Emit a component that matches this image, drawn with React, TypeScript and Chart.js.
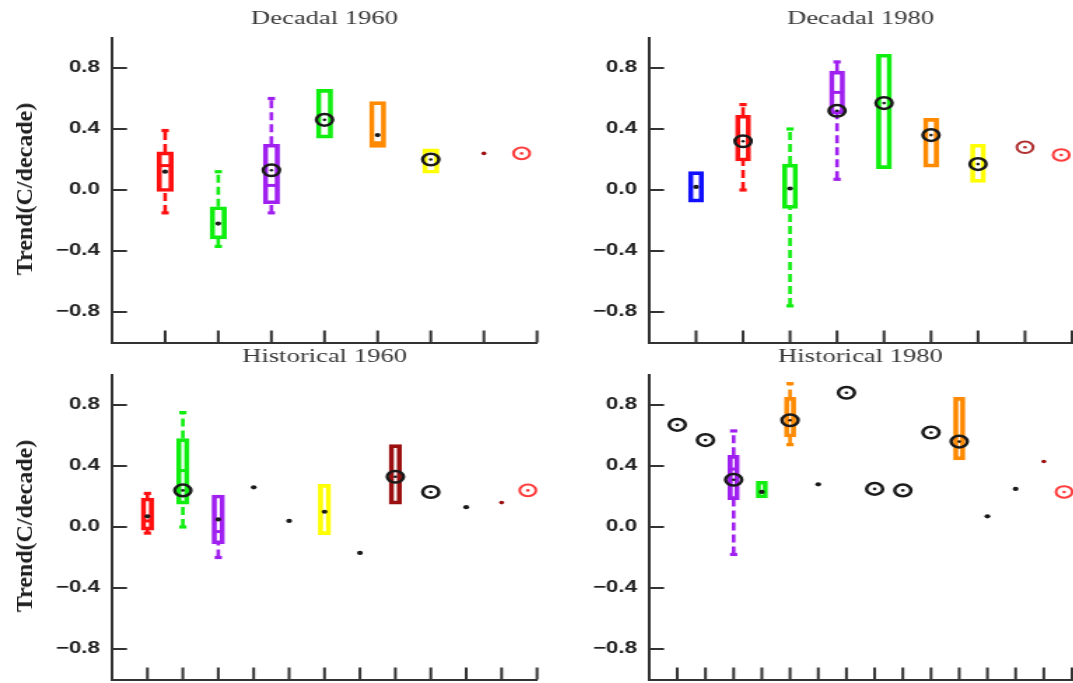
import React, { useEffect, useRef } from 'react';
import { Chart, registerables } from 'chart.js';

Chart.register(...registerables);

// ---------- colours ----------
const RED = '#ff1010';
const GREEN = '#10ee10';
const PURPLE = '#a020f0';
const ORANGE = '#ff8a00';
const YELLOW = '#ffff00';
const BLUE = '#1010ff';
const DKRED = '#9a1010';
const RING_DKRED = '#b03030';
const LTRED = '#ff3b3b';
const BLACK = '#1a1a1a';
const AXIS = '#333333';

// ---------- shared axis ----------
const Y_MIN = -1;
const Y_MAX = 1;
const Y_STEP = 0.1;
const Y_TITLE = 'Trend(C/decade)';

// ---------- Decadal 1960 ----------
const d60Title = 'Decadal 1960';
const d60Max = 8;
const d60Pos = [1, 2, 3, 4, 5, 6, 7, 7.71];
const d60Color = [RED, GREEN, PURPLE, GREEN, ORANGE, YELLOW, DKRED, LTRED];
const d60BoxLow = [-0.01, -0.32, -0.09, 0.34, 0.28, 0.11, null, null];
const d60BoxHigh = [0.25, -0.11, 0.30, 0.66, 0.58, 0.27, null, null];
const d60Median = [0.16, null, 0.03, null, 0.31, null, null, null];
const d60WhiskLow = [-0.15, -0.37, -0.15, null, null, null, null, null];
const d60WhiskHigh = [0.39, 0.12, 0.60, null, null, null, null, null];
const d60Dot = [0.12, -0.22, null, null, 0.36, null, 0.24, null];
const d60Circle = [null, null, 0.13, 0.46, null, 0.20, null, 0.24];

// ---------- Decadal 1980 ----------
const d80Title = 'Decadal 1980';
const d80Max = 9;
const d80Pos = [1, 2, 3, 4, 5, 6, 7, 8, 8.77];
const d80Color = [BLUE, RED, GREEN, PURPLE, GREEN, ORANGE, YELLOW, RING_DKRED, LTRED];
const d80BoxLow = [-0.08, 0.19, -0.12, 0.50, 0.14, 0.15, 0.05, null, null];
const d80BoxHigh = [0.12, 0.49, 0.17, 0.78, 0.89, 0.47, 0.30, null, null];
const d80Median = [null, null, null, 0.64, null, null, null, null, null];
const d80WhiskLow = [null, 0.0, -0.76, 0.07, null, null, null, null, null];
const d80WhiskHigh = [null, 0.56, 0.40, 0.84, null, null, null, null, null];
const d80Dot = [0.02, null, 0.01, null, null, null, null, null, null];
const d80Circle = [null, 0.32, null, 0.52, 0.57, 0.36, 0.17, 0.28, 0.23];

// ---------- Historical 1960 ----------
const h60Title = 'Historical 1960';
const h60Max = 12;
const h60Pos = [1, 2, 3, 4, 5, 6, 7, 8, 9, 10, 11, 11.74];
const h60Color = [RED, GREEN, PURPLE, BLACK, BLACK, YELLOW, BLACK, DKRED, BLACK, BLACK, DKRED, LTRED];
const h60BoxLow = [-0.02, 0.15, -0.11, null, null, -0.05, null, 0.15, null, null, null, null];
const h60BoxHigh = [0.19, 0.58, 0.21, null, null, 0.28, null, 0.54, null, null, null, null];
const h60Median = [0.04, 0.37, -0.03, null, null, null, null, null, null, null, null, null];
const h60WhiskLow = [-0.04, 0.0, -0.20, null, null, null, null, null, null, null, null, null];
const h60WhiskHigh = [0.22, 0.75, null, null, null, null, null, null, null, null, null, null];
const h60Dot = [0.07, null, 0.05, 0.26, 0.04, 0.10, -0.17, null, null, 0.13, 0.16, null];
const h60Circle = [null, 0.24, null, null, null, null, null, 0.33, 0.23, null, null, 0.24];

// ---------- Historical 1980 ----------
const h80Title = 'Historical 1980';
const h80Max = 15;
const h80Pos = [1, 2, 3, 4, 5, 6, 7, 8, 9, 10, 11, 12, 13, 14, 14.72];
const h80Color = [BLACK, BLACK, PURPLE, GREEN, ORANGE, BLACK, BLACK, BLACK, BLACK, BLACK, ORANGE, BLACK, BLACK, DKRED, LTRED];
const h80BoxLow = [null, null, 0.18, 0.19, 0.59, null, null, null, null, null, 0.44, null, null, null, null];
const h80BoxHigh = [null, null, 0.47, 0.30, 0.85, null, null, null, null, null, 0.85, null, null, null, null];
const h80Median = [null, null, 0.38, null, null, null, null, null, null, null, null, null, null, null, null];
const h80WhiskLow = [null, null, -0.18, null, 0.54, null, null, null, null, null, null, null, null, null, null];
const h80WhiskHigh = [null, null, 0.63, null, 0.94, null, null, null, null, null, null, null, null, null, null];
const h80Dot = [null, null, null, 0.23, null, 0.28, null, null, null, null, null, 0.07, 0.25, 0.43, null];
const h80Circle = [0.67, 0.57, 0.31, null, 0.70, null, 0.88, 0.25, 0.24, 0.62, 0.56, null, null, null, 0.23];

// ---------- layout (screen px; canvas drawing is stretched horizontally by S) ----------
const S = 1.4;
type Geom = {
  left: number; top: number; w: number; h: number; yW: number; rightPad: number; xH: number;
  tTop: number; tBot: number; barW: number; yTitle: boolean; yTitleX: number; yTitleY: number;
};

const gTL: Geom = { left: 0, top: 0, w: 386, h: 346, yW: 80, rightPad: 2.4, xH: 3.5, tTop: 7.6, tBot: 7.1, barW: 11.5, yTitle: true, yTitleX: 24, yTitleY: 189 };
const gTR: Geom = { left: 540, top: 0, w: 381, h: 346, yW: 77.9, rightPad: 1, xH: 3.5, tTop: 7.6, tBot: 7.1, barW: 10.7, yTitle: false, yTitleX: 0, yTitleY: 0 };
const gBL: Geom = { left: 0, top: 343, w: 386, h: 340, yW: 80, rightPad: 2.4, xH: 3.5, tTop: 2.6, tBot: 6.1, barW: 8.8, yTitle: true, yTitleX: 24, yTitleY: 526 };
const gBR: Geom = { left: 540, top: 343, w: 381, h: 340, yW: 77.9, rightPad: 1, xH: 3.5, tTop: 2.6, tBot: 6.1, barW: 8.0, yTitle: false, yTitleX: 0, yTitleY: 0 };

type V = (number | null)[];
type PanelCfg = {
  title: string; max: number; pos: number[]; color: string[];
  boxLow: V; boxHigh: V; median: V; whiskLow: V; whiskHigh: V; dot: V; circle: V; geom: Geom;
};

const panels: PanelCfg[] = [
  { title: d60Title, max: d60Max, pos: d60Pos, color: d60Color, boxLow: d60BoxLow, boxHigh: d60BoxHigh, median: d60Median, whiskLow: d60WhiskLow, whiskHigh: d60WhiskHigh, dot: d60Dot, circle: d60Circle, geom: gTL },
  { title: d80Title, max: d80Max, pos: d80Pos, color: d80Color, boxLow: d80BoxLow, boxHigh: d80BoxHigh, median: d80Median, whiskLow: d80WhiskLow, whiskHigh: d80WhiskHigh, dot: d80Dot, circle: d80Circle, geom: gTR },
  { title: h60Title, max: h60Max, pos: h60Pos, color: h60Color, boxLow: h60BoxLow, boxHigh: h60BoxHigh, median: h60Median, whiskLow: h60WhiskLow, whiskHigh: h60WhiskHigh, dot: h60Dot, circle: h60Circle, geom: gBL },
  { title: h80Title, max: h80Max, pos: h80Pos, color: h80Color, boxLow: h80BoxLow, boxHigh: h80BoxHigh, median: h80Median, whiskLow: h80WhiskLow, whiskHigh: h80WhiskHigh, dot: h80Dot, circle: h80Circle, geom: gBR },
];

const inwardTicks = {
  id: 'inwardTicks',
  beforeDatasetsDraw(chart: any) {
    const { ctx, chartArea } = chart;
    const ys = chart.scales.y;
    const xs = chart.scales.x;
    ctx.save();
    ctx.strokeStyle = AXIS;
    ctx.lineWidth = 2;
    ctx.beginPath();
    ys.ticks.forEach((t: any) => {
      const y = ys.getPixelForValue(t.value);
      const len = t.label ? 10.7 : 5.7;
      ctx.moveTo(chartArea.left, y);
      ctx.lineTo(chartArea.left + len, y);
    });
    xs.ticks.forEach((t: any) => {
      if (t.value <= 0) return;
      const x = xs.getPixelForValue(t.value);
      ctx.moveTo(x, chartArea.bottom);
      ctx.lineTo(x, chartArea.bottom - 12);
    });
    ctx.stroke();
    ctx.restore();
  },
};

function buildConfig(p: PanelCfg): any {
  const g = p.geom;
  const boxes: any[] = [], boxColors: string[] = [];
  const whiskers: any[] = [];
  const caps: any[] = [], capColors: string[] = [];
  const meds: any[] = [], medColors: string[] = [];
  const dots: any[] = [], dotColors: string[] = [], dotR: number[] = [];
  const rings: any[] = [], ringColors: string[] = [], ringW: number[] = [];

  p.pos.forEach((x, i) => {
    const lo = p.boxLow[i], hi = p.boxHigh[i];
    const hasBox = lo != null && hi != null;
    const c = p.color[i];
    const mk = hasBox ? BLACK : c;
    if (hasBox) {
      boxes.push({ x, y: [lo, hi] });
      boxColors.push(c);
    }
    const seg: any[] = [];
    const wl = p.whiskLow[i], wh = p.whiskHigh[i];
    if (wl != null && lo != null) {
      seg.push({ x, y: wl }, { x, y: lo });
      caps.push({ x, y: wl }); capColors.push(c);
    }
    if (wh != null && hi != null) {
      if (seg.length) seg.push({ x, y: null });
      seg.push({ x, y: hi }, { x, y: wh });
      caps.push({ x, y: wh }); capColors.push(c);
    }
    if (seg.length) {
      whiskers.push({
        type: 'line', data: seg, borderColor: c, borderWidth: 2.6, borderDash: [8, 4],
        pointRadius: 0, spanGaps: false, clip: false, order: 5,
      });
    }
    if (p.median[i] != null) { meds.push({ x, y: p.median[i] }); medColors.push(c); }
    if (p.dot[i] != null) {
      dots.push({ x, y: p.dot[i] });
      dotColors.push(mk);
      dotR.push(mk === BLACK ? 2.1 : 1.8);
    }
    if (p.circle[i] != null) {
      rings.push({ x, y: p.circle[i] });
      ringColors.push(mk);
      ringW.push(mk === BLACK ? 2.5 : 2);
    }
  });

  const pointBase = { type: 'line', showLine: false, clip: false, pointHoverRadius: 0 };
  const datasets: any[] = [
    { ...pointBase, label: 'centres', data: rings, pointRadius: 1.3, pointBackgroundColor: ringColors, pointBorderWidth: 0, order: 0 },
    { ...pointBase, label: 'rings', data: rings, pointRadius: 5.8, pointBackgroundColor: 'rgba(0,0,0,0)', pointBorderColor: ringColors, pointBorderWidth: ringW, order: 1 },
    { ...pointBase, label: 'dots', data: dots, pointRadius: dotR, pointBackgroundColor: dotColors, pointBorderWidth: 0, order: 2 },
    { ...pointBase, label: 'medians', data: meds, pointStyle: 'line', pointRadius: g.barW / 2 - 1, pointBorderColor: medColors, pointBorderWidth: 3, order: 3 },
    { ...pointBase, label: 'caps', data: caps, pointStyle: 'line', pointRadius: 2.6, pointBorderColor: capColors, pointBorderWidth: 3.2, order: 4 },
    ...whiskers,
    {
      type: 'bar', label: 'boxes', data: boxes, backgroundColor: 'rgba(0,0,0,0)', borderColor: boxColors,
      borderWidth: 3, borderSkipped: false, barThickness: g.barW, clip: false, order: 6,
    },
  ];

  return {
    type: 'bar',
    data: { datasets },
    options: {
      animation: false,
      responsive: false,
      events: [],
      layout: { autoPadding: false, padding: { left: 0, right: g.rightPad, top: 0, bottom: 0 } },
      plugins: {
        legend: { display: false },
        tooltip: { enabled: false },
        title: {
          display: true, text: p.title, fullSize: false, color: '#383838',
          font: { family: '"Liberation Serif", "Times New Roman", serif', size: 19, weight: 'normal' },
          padding: { top: g.tTop, bottom: g.tBot },
        },
      },
      scales: {
        x: {
          type: 'linear', min: 0, max: p.max, offset: false,
          grid: { display: false, drawTicks: false },
          border: { display: true, color: AXIS, width: 2 },
          ticks: { display: false, stepSize: 1 },
          afterFit: (s: any) => { s.height = g.xH; s.paddingLeft = 0; s.paddingRight = 0; },
        },
        y: {
          type: 'linear', min: Y_MIN, max: Y_MAX,
          grid: { display: false, drawTicks: false },
          border: { display: true, color: AXIS, width: 2 },
          ticks: {
            stepSize: Y_STEP, autoSkip: false, maxTicksLimit: 100, padding: 8.6, color: '#222',
            font: { family: '"Liberation Sans", Arial, sans-serif', size: 16, weight: 'bold' },
            callback: (v: number) => {
              const k = Math.round(v * 10);
              if (k % 4 !== 0 || Math.abs(k) >= 10) return null;
              return (k < 0 ? '\u2212' : '') + (Math.abs(k) / 10).toFixed(1);
            },
          },
          afterFit: (s: any) => { s.width = g.yW; s.paddingTop = 0; s.paddingBottom = 0; },
        },
      },
    },
    plugins: [inwardTicks],
  };
}

function Panel({ cfg }: { cfg: PanelCfg }) {
  const ref = useRef<HTMLCanvasElement>(null);
  useEffect(() => {
    const chart = new Chart(ref.current as HTMLCanvasElement, buildConfig(cfg));
    return () => chart.destroy();
  }, [cfg]);
  const g = cfg.geom;
  return (
    <>
      <div style={{ position: 'absolute', left: g.left, top: g.top, width: g.w, height: g.h, transform: `scaleX(${S})`, transformOrigin: '0 0' }}>
        <canvas ref={ref} width={g.w} height={g.h} style={{ display: 'block' }} />
      </div>
      {g.yTitle && (
        <div
          style={{
            position: 'absolute', left: g.yTitleX, top: g.yTitleY, transform: 'translate(-50%, -50%) rotate(-90deg)',
            whiteSpace: 'nowrap', fontFamily: '"Liberation Serif", "Times New Roman", serif', fontSize: 24,
            fontWeight: 'bold', lineHeight: 1, color: '#1e1e1e',
          }}
        >
          {Y_TITLE}
        </div>
      )}
    </>
  );
}

export default function App() {
  return (
    <div style={{ position: 'absolute', left: 0, top: 0, width: 1073, height: 683, overflow: 'hidden', background: '#fff' }}>
      {panels.map((p) => <Panel key={p.title} cfg={p} />)}
    </div>
  );
}
